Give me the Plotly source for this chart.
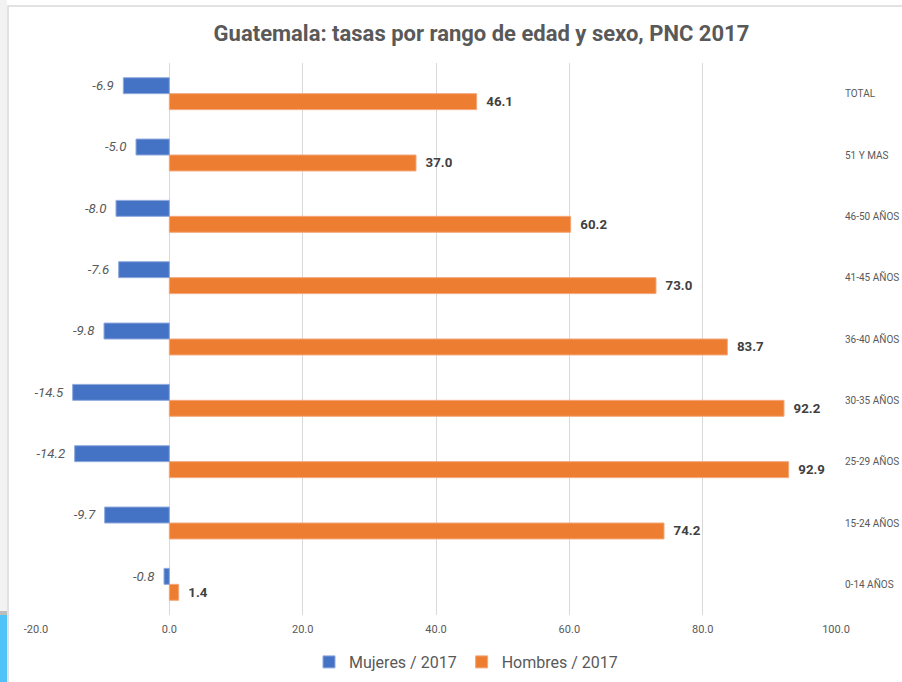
import plotly.graph_objects as go

# Categories listed bottom-to-top (as on the chart's axis)
categories = ["0-14 AÑOS", "15-24 AÑOS", "25-29 AÑOS", "30-35 AÑOS", "36-40 AÑOS",
              "41-45 AÑOS", "46-50 AÑOS", "51 Y MAS", "TOTAL"]
mujeres = [-0.8, -9.7, -14.2, -14.5, -9.8, -7.6, -8.0, -5.0, -6.9]
hombres = [1.4, 74.2, 92.9, 92.2, 83.7, 73.0, 60.2, 37.0, 46.1]
x_ticks = [-20, 0, 20, 40, 60, 80, 100]
x_ticklabels = ["-20.0", "0.0", "20.0", "40.0", "60.0", "80.0", "100.0"]

FONT = "Roboto, Open Sans, sans-serif"
W, H = 902, 682
L, R, T, B = 36, 66, 63, 67
PW, PH = W - L - R, H - T - B
NB = "\u00a0"


def px(x):
    return (x - L) / PW


def py(y):
    return (H - B - y) / PH


fig = go.Figure()
fig.add_trace(go.Bar(
    y=categories, x=hombres, orientation="h", name="Hombres / 2017",
    marker=dict(color="#ED7D31", line=dict(color="#F4A77A", width=1)),
    texttemplate=NB + NB + "%{x:.1f}", textposition="outside", cliponaxis=False,
    textfont=dict(family=FONT, size=15, color="#404040", weight="bold"),
))
fig.add_trace(go.Bar(
    y=categories, x=mujeres, orientation="h", name="Mujeres / 2017",
    marker=dict(color="#4472C4", line=dict(color="#8FA9DC", width=1)),
    texttemplate="%{x:.1f}" + NB + NB, textposition="outside", cliponaxis=False,
    textfont=dict(family=FONT, size=15, color="#595959", style="italic"),
))

shapes = [
    dict(type="rect", xref="paper", yref="paper", x0=px(8), x1=px(W + 10), y0=py(H + 10), y1=py(6),
         line=dict(color="#D9D9D9", width=1.5), fillcolor="rgba(0,0,0,0)", layer="below"),
    dict(type="rect", xref="paper", yref="paper", x0=px(0), x1=px(7), y0=py(611), y1=py(0),
         line=dict(width=0), fillcolor="#F2F2F2", layer="below"),
    dict(type="rect", xref="paper", yref="paper", x0=px(0), x1=px(7), y0=py(615), y1=py(611),
         line=dict(width=0), fillcolor="#BDBDBD", layer="below"),
    dict(type="rect", xref="paper", yref="paper", x0=px(0), x1=px(7), y0=py(H), y1=py(615),
         line=dict(width=0), fillcolor="#4FC3F7", layer="below"),
]

fig.update_layout(
    width=W, height=H,
    margin=dict(l=L, r=R, t=T, b=B, autoexpand=False),
    paper_bgcolor="white", plot_bgcolor="white",
    barmode="group", bargap=0.48, bargroupgap=0,
    title=dict(text="Guatemala: tasas por rango de edad y sexo, PNC 2017",
               x=px(463), xanchor="center", y=1 - 33 / H, yanchor="middle",
               font=dict(family=FONT, size=22, color="#595959", weight="bold")),
    xaxis=dict(range=[-20, 100], tickvals=x_ticks, ticktext=x_ticklabels,
               showgrid=True, gridcolor="#D9D9D9", gridwidth=1, zeroline=False,
               showline=False, ticks="", automargin=False, ticklabelstandoff=6,
               tickfont=dict(family=FONT, size=11, color="#595959")),
    yaxis=dict(categoryorder="array", categoryarray=categories, range=[-0.5, 8.5],
               side="right", showgrid=False, zeroline=False, showline=False, ticks="",
               automargin=False, ticklabelstandoff=8,
               tickfont=dict(family=FONT, size=10, color="#595959")),
    legend=dict(orientation="h", x=px(466), xanchor="center", y=py(662), yanchor="middle",
                traceorder="reversed",
                font=dict(family=FONT, size=16, color="#595959")),
    showlegend=True,
    shapes=shapes,
)

fig.write_html("out.html", config={"displayModeBar": False},
               post_script="document.body.style.margin='0';")
